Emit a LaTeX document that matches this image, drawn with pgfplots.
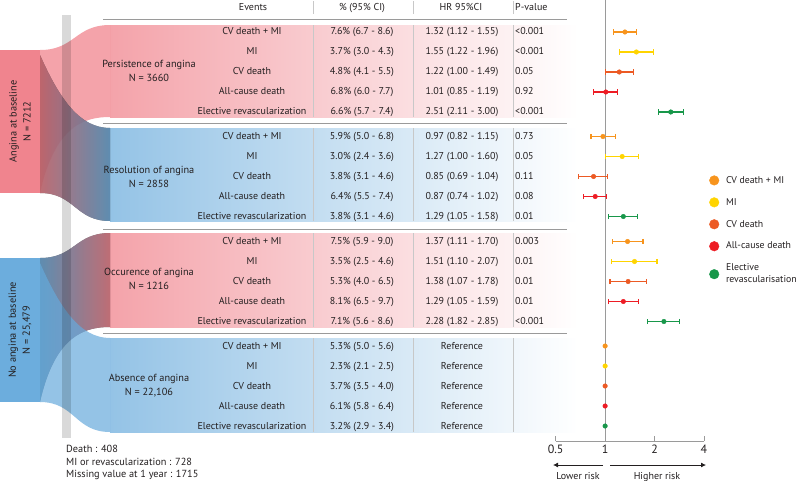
\documentclass[border=0pt]{standalone}
\usepackage{fontspec}
\setmainfont{PT Sans}
\usepackage{pgfplots}
\usepackage{pgfplotstable}
\pgfplotsset{compat=1.18}
\usetikzlibrary{arrows.meta}

\definecolor{boxred}{HTML}{F0848E}
\definecolor{bandred}{HTML}{F4A3AA}
\definecolor{flowred}{HTML}{EF7C86}
\definecolor{boxblue}{HTML}{6CADDD}
\definecolor{bandblue}{HTML}{94C3E6}
\definecolor{flowblue}{HTML}{66A9DB}
\definecolor{txt}{HTML}{231F20}
\definecolor{sepc}{HTML}{9A9A9A}
\definecolor{colc}{HTML}{C8C8C8}
\definecolor{cOrange}{HTML}{F7941D}
\definecolor{cYellow}{HTML}{FFD400}
\definecolor{cCV}{HTML}{EC5A24}
\definecolor{cAll}{HTML}{ED1C24}
\definecolor{cGreen}{HTML}{18974A}

% HR and 95% CI, rows placed at the table's row heights
\pgfplotstableread{
y hr lo hi
-32 1.32 1.12 1.55
-136.5 0.97 0.82 1.15
-241.5 1.37 1.11 1.70
}\cvmi
\pgfplotstableread{
y hr lo hi
-52 1.55 1.22 1.96
-156.5 1.27 1.00 1.60
-261.5 1.51 1.10 2.07
}\mi
\pgfplotstableread{
y hr lo hi
-72 1.22 1.00 1.49
-176.5 0.85 0.69 1.04
-281.5 1.38 1.07 1.78
}\cvd
\pgfplotstableread{
y hr lo hi
-92 1.01 0.85 1.19
-196.5 0.87 0.74 1.02
-301.5 1.29 1.05 1.59
}\allc
\pgfplotstableread{
y hr lo hi
-112 2.51 2.11 3.00
-216.5 1.29 1.05 1.58
-321.5 2.28 1.82 2.85
}\revasc

\newcommand\tabfont{\fontsize{10}{12}\selectfont}
\pgfplotsset{
  ci/.style={forget plot, only marks, color=#1, mark=*, mark size=2.3pt,
    error bars/.cd, x dir=both, x explicit,
    error bar style={line width=1.4pt, color=#1},
    error mark options={rotate=90, mark size=2.6pt, line width=1.1pt, color=#1}},
}

\begin{document}
\begin{tikzpicture}
% canvas in pixel units: bands, flows, boxes
\begin{axis}[at={(0pt,0pt)}, anchor=north west, scale only axis,
  width=800pt, height=481pt, xmin=0, xmax=800, ymin=0, ymax=481,
  y dir=reverse, hide axis, clip=false]
  \fill[left color=bandred, right color=white] (110,25) rectangle (578,117);
  \fill[left color=bandblue, right color=white] (110,128) rectangle (578,221);
  \fill[left color=bandred, right color=white] (110,233) rectangle (578,327);
  \fill[left color=bandblue, right color=white] (110,338) rectangle (578,432);
  % flows
  \fill[flowred, fill opacity=0.7] (40,50) .. controls (75,50) and (75,25) .. (110,25)
     -- (110,117) .. controls (85,117) and (55,125) .. (40,193) -- cycle;
  \fill[left color=flowred, right color=flowblue, fill opacity=0.7] (40,55) .. controls (60,100) and (80,128) .. (110,128)
     -- (110,221) .. controls (75,221) and (75,193) .. (40,193) -- cycle;
  \fill[left color=flowblue, right color=flowred, fill opacity=0.7] (40,258) .. controls (75,258) and (75,233) .. (110,233)
     -- (110,327) .. controls (85,327) and (55,335) .. (40,402) -- cycle;
  \fill[flowblue, fill opacity=0.7] (40,263) .. controls (60,308) and (80,338) .. (110,338)
     -- (110,432) .. controls (75,432) and (75,402) .. (40,402) -- cycle;
  \fill[boxred] (0,50) rectangle (40,193);
  \fill[boxblue] (0,258) rectangle (40,402);
  \fill[black, fill opacity=0.15] (62,15) rectangle (71,438);
  % table rules
  \draw[sepc, line width=1pt] (103,19) -- (567,19);
  \draw[sepc, line width=1pt] (103,123) -- (567,123);
  \draw[sepc, line width=1pt] (103,229) -- (567,229);
  \draw[sepc, line width=1pt] (103,333) -- (567,333);
  \draw[colc, line width=0.6pt] (313,1) -- (313,14) (413,1) -- (413,14) (513,1) -- (513,14);
  \draw[colc, line width=0.6pt] (313,25) -- (313,117) (413,25) -- (413,117) (513,25) -- (513,117);
  \draw[colc, line width=0.6pt] (313,128) -- (313,221) (413,128) -- (413,221) (513,128) -- (513,221);
  \draw[colc, line width=0.6pt] (313,233) -- (313,327) (413,233) -- (413,327) (513,233) -- (513,327);
  \draw[colc, line width=0.6pt] (313,338) -- (313,432) (413,338) -- (413,432) (513,338) -- (513,432);
  % risk arrows
  \draw[txt, line width=0.8pt, -{Latex[length=5pt,width=5pt]}] (603,465) -- (553,465);
  \draw[txt, line width=0.8pt, -{Latex[length=5pt,width=5pt]}] (610,465) -- (706,465);
\end{axis}

\begin{scope}[x=1pt, y=-1pt, every node/.style={text=txt, font=\tabfont, text height=1.5ex, text depth=.3ex, inner sep=0pt}]
  \node at (253,8) {Events};
  \node at (362,8) {\% (95\% CI)};
  \node at (461,8) {HR 95\%CI};
  \node[anchor=west] at (515,8) {P-value};
  \foreach \g in {32,136.5,241.5,346}
    \foreach \t [count=\i from 0] in {CV death + MI, MI, CV death, All-cause death, Elective revascularization}
      \node at (252,{\g+20*\i}) {\t};
  \foreach \t [count=\i from 0] in {7.6\% (6.7 - 8.6), 3.7\% (3.0 - 4.3), 4.8\% (4.1 - 5.5), 6.8\% (6.0 - 7.7), 6.6\% (5.7 - 7.4)}
    \node at (362,{32+20*\i}) {\t};
  \foreach \t [count=\i from 0] in {5.9\% (5.0 - 6.8), 3.0\% (2.4 - 3.6), 3.8\% (3.1 - 4.6), 6.4\% (5.5 - 7.4), 3.8\% (3.1 - 4.6)}
    \node at (362,{136.5+20*\i}) {\t};
  \foreach \t [count=\i from 0] in {7.5\% (5.9 - 9.0), 3.5\% (2.5 - 4.6), 5.3\% (4.0 - 6.5), 8.1\% (6.5 - 9.7), 7.1\% (5.6 - 8.6)}
    \node at (362,{241.5+20*\i}) {\t};
  \foreach \t [count=\i from 0] in {5.3\% (5.0 - 5.6), 2.3\% (2.1 - 2.5), 3.7\% (3.5 - 4.0), 6.1\% (5.8 - 6.4), 3.2\% (2.9 - 3.4)}
    \node at (362,{346+20*\i}) {\t};
  \foreach \t [count=\i from 0] in {1.32 (1.12 - 1.55), 1.55 (1.22 - 1.96), 1.22 (1.00 - 1.49), 1.01 (0.85 - 1.19), 2.51 (2.11 - 3.00)}
    \node at (462,{32+20*\i}) {\t};
  \foreach \t [count=\i from 0] in {0.97 (0.82 - 1.15), 1.27 (1.00 - 1.60), 0.85 (0.69 - 1.04), 0.87 (0.74 - 1.02), 1.29 (1.05 - 1.58)}
    \node at (462,{136.5+20*\i}) {\t};
  \foreach \t [count=\i from 0] in {1.37 (1.11 - 1.70), 1.51 (1.10 - 2.07), 1.38 (1.07 - 1.78), 1.29 (1.05 - 1.59), 2.28 (1.82 - 2.85)}
    \node at (462,{241.5+20*\i}) {\t};
  \foreach \i in {0,...,4}
    \node at (462,{346+20*\i}) {Reference};
  \foreach \t [count=\i from 0] in {<0.001, <0.001, 0.05, 0.92, <0.001}
    \node[anchor=west] at (515,{32+20*\i}) {\t};
  \foreach \t [count=\i from 0] in {0.73, 0.05, 0.11, 0.08, 0.01}
    \node[anchor=west] at (515,{136.5+20*\i}) {\t};
  \foreach \t [count=\i from 0] in {0.003, 0.01, 0.01, 0.01, <0.001}
    \node[anchor=west] at (515,{241.5+20*\i}) {\t};
  % group labels
  \begin{scope}[every node/.style={text=txt, align=center, font=\fontsize{10.3}{14}\selectfont}]
    \node at (149,71) {Persistence of angina\\N = 3660};
    \node at (149,176.5) {Resolution of angina\\N = 2858};
    \node at (149,279) {Occurence of angina\\N = 1216};
    \node at (149,385.5) {Absence of angina\\N = 22,106};
    \node[rotate=90] at (20,121.5) {Angina at baseline\\N = 7212};
    \node[rotate=90] at (20,330) {No angina at baseline\\N = 25,479};
  \end{scope}
  \begin{scope}[every node/.style={text=txt, anchor=west, inner sep=0pt, font=\fontsize{10.3}{12}\selectfont}]
    \node at (66,449) {Death : 408};
    \node at (66,462) {MI or revascularization : 728};
    \node at (66,475) {Missing value at 1 year : 1715};
  \end{scope}
  \node at (578,476) {Lower risk};
  \node at (657,476) {Higher risk};
\end{scope}

% forest plot on a log axis
\begin{axis}[at={(555.7pt,0pt)}, anchor=north west, scale only axis,
  width=148.3pt, height=441pt,
  xmode=log, log basis x=2, xmin=0.5, xmax=4, ymin=-441, ymax=0,
  axis y line=none, axis x line*=bottom,
  x axis line style={sepc, line width=0.8pt},
  xtick={0.5,1,2,4}, xticklabels={0.5,1,2,4},
  minor xtick={}, tick align=inside, major tick length=5pt,
  xtick style={sepc, line width=0.8pt},
  ticklabel style={font=\fontsize{12}{12}\selectfont, text=txt},
  /pgf/number format/assume math mode=true,
  clip=false,
  legend style={draw=none, fill=none, at={(1.015,0.61)}, anchor=north west,
    font=\fontsize{9.8}{12}\selectfont, text=txt, row sep=9.5pt, cells={align=left},
    /tikz/every odd column/.append style={column sep=5pt}},
  legend cell align=left,
]
  \draw[sepc, line width=0.7pt] (axis cs:1,0) -- (axis cs:1,-441);
  \addplot[ci=cOrange] table[x=hr, y=y, x error plus expr=\thisrow{hi}-\thisrow{hr}, x error minus expr=\thisrow{hr}-\thisrow{lo}] {\cvmi};
  \addplot[ci=cYellow] table[x=hr, y=y, x error plus expr=\thisrow{hi}-\thisrow{hr}, x error minus expr=\thisrow{hr}-\thisrow{lo}] {\mi};
  \addplot[ci=cCV] table[x=hr, y=y, x error plus expr=\thisrow{hi}-\thisrow{hr}, x error minus expr=\thisrow{hr}-\thisrow{lo}] {\cvd};
  \addplot[ci=cAll] table[x=hr, y=y, x error plus expr=\thisrow{hi}-\thisrow{hr}, x error minus expr=\thisrow{hr}-\thisrow{lo}] {\allc};
  \addplot[ci=cGreen] table[x=hr, y=y, x error plus expr=\thisrow{hi}-\thisrow{hr}, x error minus expr=\thisrow{hr}-\thisrow{lo}] {\revasc};
  % reference group
  \addplot[forget plot, only marks, mark=*, mark size=2.3pt, color=cOrange] coordinates {(1,-346)};
  \addplot[forget plot, only marks, mark=*, mark size=2.3pt, color=cYellow] coordinates {(1,-366)};
  \addplot[forget plot, only marks, mark=*, mark size=2.3pt, color=cCV] coordinates {(1,-386)};
  \addplot[forget plot, only marks, mark=*, mark size=2.3pt, color=cAll] coordinates {(1,-406)};
  \addplot[forget plot, only marks, mark=*, mark size=2.3pt, color=cGreen] coordinates {(1,-426)};
  \addlegendimage{only marks, mark=*, mark size=4.8pt, color=cOrange}
  \addlegendentry{CV death + MI}
  \addlegendimage{only marks, mark=*, mark size=4.8pt, color=cYellow}
  \addlegendentry{MI}
  \addlegendimage{only marks, mark=*, mark size=4.8pt, color=cCV}
  \addlegendentry{CV death}
  \addlegendimage{only marks, mark=*, mark size=4.8pt, color=cAll}
  \addlegendentry{All-cause death}
  \addlegendimage{only marks, mark=*, mark size=4.8pt, color=cGreen}
  \addlegendentry{Elective\\revascularisation}
\end{axis}
\pgfresetboundingbox
\useasboundingbox (0pt,0pt) rectangle (800pt,-481pt);
\end{tikzpicture}
\end{document}
